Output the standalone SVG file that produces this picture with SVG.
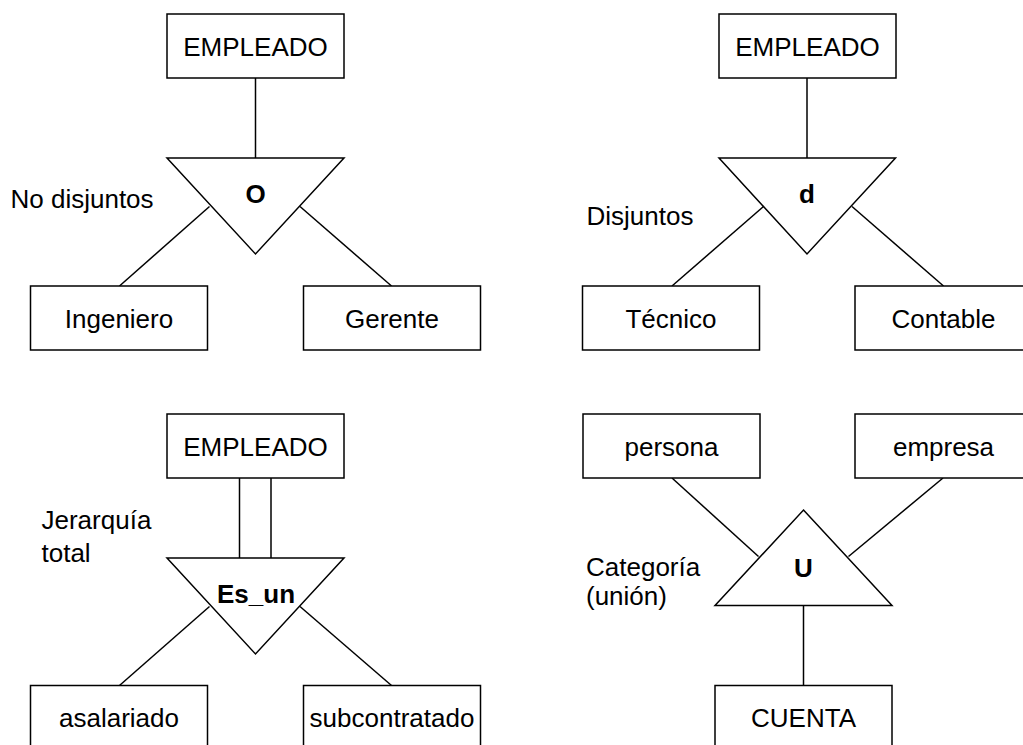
<svg xmlns="http://www.w3.org/2000/svg" width="1023" height="745" viewBox="0 0 1023 745">
<style>
.box{fill:#fff;stroke:#000;stroke-width:1.5}
.tri{fill:#fff;stroke:#000;stroke-width:1.5;stroke-linejoin:miter}
.ln{stroke:#000;stroke-width:1.5;fill:none}
.t{font-family:"Liberation Sans",Arial,sans-serif;font-size:26px;fill:#000}
.c{text-anchor:middle}
.b{font-weight:bold}
</style>
<rect width="1023" height="745" fill="#fff"/>
<g id="connectors">
<line class="ln" x1="255.5" y1="78" x2="255.5" y2="158"/>
<line class="ln" x1="209.5" y1="206.5" x2="119.5" y2="286"/>
<line class="ln" x1="300" y1="206.5" x2="391.5" y2="286"/>
<line class="ln" x1="807" y1="78" x2="807" y2="158"/>
<line class="ln" x1="763.5" y1="206.5" x2="672" y2="286"/>
<line class="ln" x1="852" y1="206.5" x2="943.5" y2="286"/>
<line class="ln" x1="239.5" y1="478" x2="239.5" y2="558"/>
<line class="ln" x1="271" y1="478" x2="271" y2="558"/>
<line class="ln" x1="209.5" y1="606.5" x2="119.5" y2="685.5"/>
<line class="ln" x1="300" y1="606.5" x2="391.5" y2="685.5"/>
<line class="ln" x1="672" y1="478" x2="758.5" y2="556.5"/>
<line class="ln" x1="943" y1="478" x2="848.5" y2="556.5"/>
<line class="ln" x1="803.5" y1="605.5" x2="803.5" y2="685.5"/>
</g>
<g id="emp1"><rect class="box" x="167" y="14" width="177" height="64"/><text class="t c" x="255.5" y="56">EMPLEADO</text></g>
<g id="spec1"><polygon class="tri" points="167,158 344,158 255.5,254"/><text class="t c b" x="255.5" y="203">O</text></g>
<g id="ingeniero"><rect class="box" x="30.5" y="286" width="177" height="64"/><text class="t c" x="119" y="327.5">Ingeniero</text></g>
<g id="gerente"><rect class="box" x="303.5" y="286" width="177" height="64"/><text class="t c" x="392" y="327.5">Gerente</text></g>
<g id="label1"><text class="t" x="10.5" y="208">No disjuntos</text></g>

<g id="emp2"><rect class="box" x="719" y="14" width="177" height="64"/><text class="t c" x="807.5" y="56">EMPLEADO</text></g>
<g id="spec2"><polygon class="tri" points="719,158 895.5,158 807,254"/><text class="t c b" x="807" y="203">d</text></g>
<g id="tecnico"><rect class="box" x="582.5" y="286" width="177" height="64"/><text class="t c" x="671" y="327.5">Técnico</text></g>
<g id="contable"><rect class="box" x="855" y="286" width="180" height="64"/><text class="t c" x="943.5" y="327.5">Contable</text></g>
<g id="label2"><text class="t" x="586.5" y="225">Disjuntos</text></g>

<g id="emp3"><rect class="box" x="167" y="414" width="177" height="64"/><text class="t c" x="255.5" y="456">EMPLEADO</text></g>
<g id="spec3"><polygon class="tri" points="167,558 344,558 255.5,654"/><text class="t c b" x="256" y="603">Es_un</text></g>
<g id="asalariado"><rect class="box" x="30.5" y="685.5" width="177" height="70"/><text class="t c" x="119" y="727">asalariado</text></g>
<g id="subcontratado"><rect class="box" x="303.5" y="685.5" width="177" height="70"/><text class="t c" x="392" y="727">subcontratado</text></g>
<g id="label3"><text class="t" x="41.5" y="529">Jerarquía</text><text class="t" x="41.5" y="562">total</text></g>

<g id="persona"><rect class="box" x="583" y="414" width="177" height="64"/><text class="t c" x="671.5" y="456">persona</text></g>
<g id="empresa"><rect class="box" x="855" y="414" width="180" height="64"/><text class="t c" x="943.5" y="456">empresa</text></g>
<g id="union"><polygon class="tri" points="803.5,510 892,605.5 715,605.5"/><text class="t c b" x="803.5" y="577">U</text></g>
<g id="cuenta"><rect class="box" x="715" y="685.5" width="177" height="70"/><text class="t c" x="803.5" y="727">CUENTA</text></g>
<g id="label4"><text class="t" x="586" y="576">Categoría</text><text class="t" x="586" y="605">(unión)</text></g>
</svg>
